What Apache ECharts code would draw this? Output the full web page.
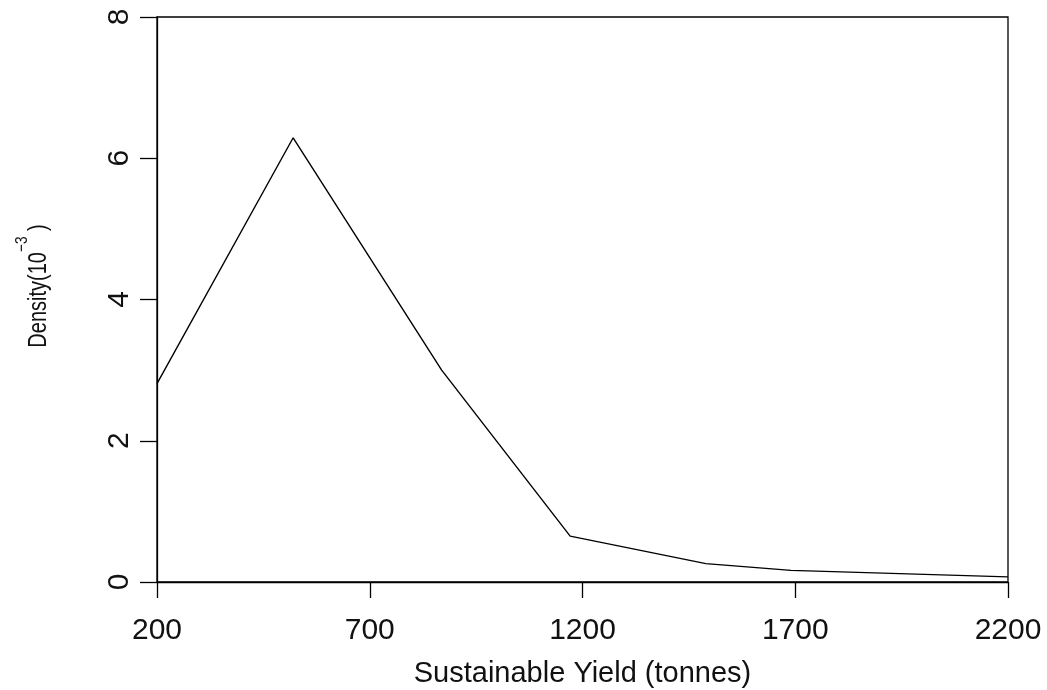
<!DOCTYPE html>
<html>
<head>
<meta charset="utf-8">
<script src="https://cdn.jsdelivr.net/npm/echarts@6/dist/echarts.min.js"></script>
<style>html,body{margin:0;padding:0;background:#fff;}#c{width:1047px;height:690px;}</style>
</head>
<body>
<div id="c"></div>
<script>
var yieldValues = [200, 520, 869, 1171, 1490, 1690, 2200];
var densityValues = [2.81, 6.29, 3.0, 0.65, 0.26, 0.165, 0.072];
var xTicks = [200, 700, 1200, 1700, 2200];
var yTicks = [0, 2, 4, 6, 8];
var xTitle = 'Sustainable Yield (tonnes)';

var chart = echarts.init(document.getElementById('c'), null, {renderer: 'canvas'});
var FONT = '"Liberation Sans", Arial, sans-serif';
var points = yieldValues.map(function (x, i) { return [x, densityValues[i]]; });

chart.setOption({
  animation: false,
  backgroundColor: '#fff',
  grid: {left: 157, right: 39, top: 17, bottom: 108, containLabel: false, outerBoundsMode: 'none',
         show: true, borderColor: '#000', borderWidth: 1.3, backgroundColor: 'transparent'},
  xAxis: {
    type: 'value', min: xTicks[0], max: xTicks[xTicks.length - 1], interval: 500,
    name: xTitle, nameLocation: 'middle', nameGap: 77,
    nameTextStyle: {fontFamily: FONT, fontSize: 29, color: '#111'},
    axisLine: {show: true, onZero: false, lineStyle: {color: '#000', width: 1.3}},
    axisTick: {show: true, length: 16, lineStyle: {color: '#000', width: 1.3}},
    axisLabel: {fontFamily: FONT, fontSize: 30, color: '#111', margin: 34, formatter: function (v) { return String(v); }},
    splitLine: {show: false}
  },
  yAxis: {
    type: 'value', min: yTicks[0], max: yTicks[yTicks.length - 1], interval: 2,
    axisLine: {show: true, onZero: false, lineStyle: {color: '#000', width: 1.3}},
    axisTick: {show: true, length: 17, lineStyle: {color: '#000', width: 1.3}},
    axisLabel: {fontFamily: FONT, fontSize: 30, color: '#111', margin: 22, rotate: 90, formatter: function (v) { return String(v); }},
    splitLine: {show: false}
  },
  graphic: [{
    type: 'text',
    x: 33, y: 286,
    rotation: Math.PI / 2,
    scaleX: 0.8,
    style: {
      text: '{b|Density(10}{s|−3}{b| )}',
      fontFamily: FONT,
      align: 'center', verticalAlign: 'middle',
      fill: '#111',
      rich: {
        b: {fontFamily: FONT, fontSize: 25, color: '#111', lineHeight: 38, verticalAlign: 'bottom'},
        s: {fontFamily: FONT, fontSize: 17, color: '#111', lineHeight: 38, verticalAlign: 'top'}
      }
    }
  }],
  series: [{
    type: 'line',
    data: points,
    showSymbol: false,
    symbol: 'none',
    lineStyle: {color: '#000', width: 1.4},
    clip: true
  }]
});
</script>
</body>
</html>
